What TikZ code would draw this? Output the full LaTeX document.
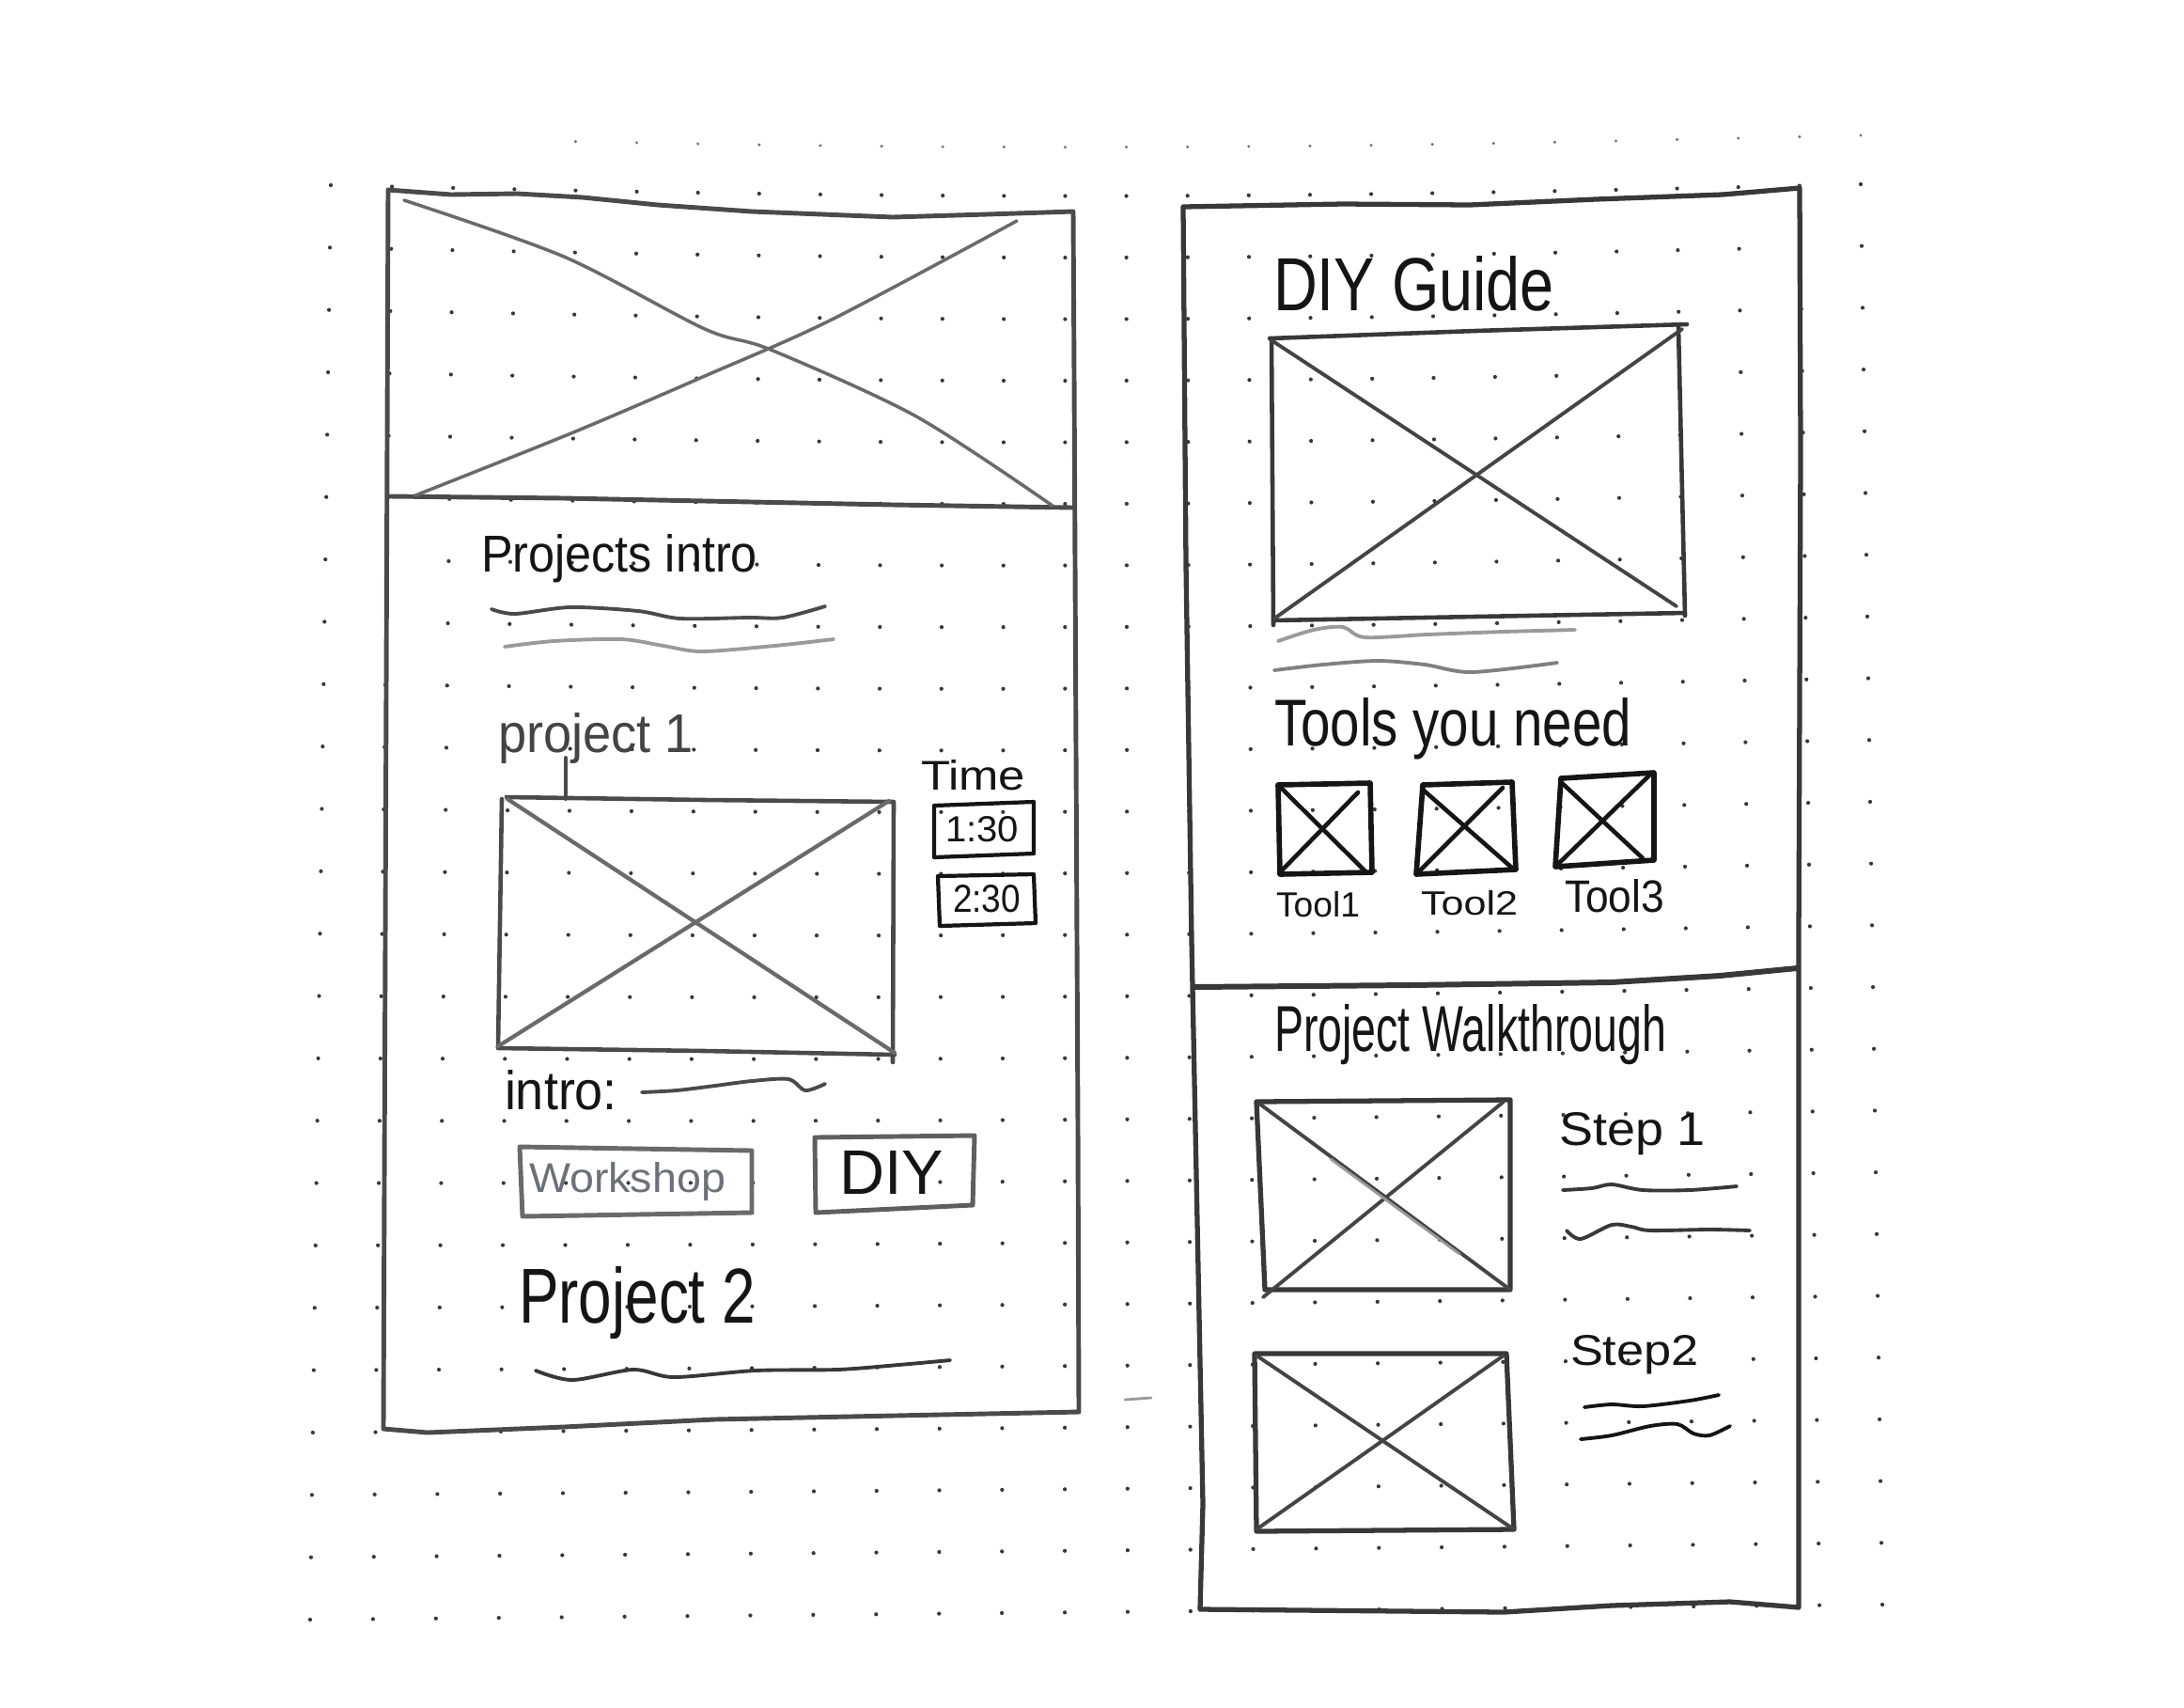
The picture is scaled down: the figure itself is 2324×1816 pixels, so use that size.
\documentclass[tikz,border=0pt]{standalone}
\usepackage{fontspec}
\usepackage{graphicx}
\setmainfont{Liberation Sans}
% one drawing unit = 0.1mm; handwriting is fitted to a width and a height in those units
\newlength\pxu
\setlength\pxu{0.1mm}
\newcommand\hw[3]{\resizebox{#1\pxu}{#2\pxu}{#3}}
\definecolor{dotc}{HTML}{383838}
\definecolor{inkc}{HTML}{151515}
\definecolor{leadc}{HTML}{4A4A4A}
\definecolor{softc}{HTML}{6A6A6A}
\definecolor{paleC}{HTML}{9A9A9A}
\definecolor{bluegray}{HTML}{6C7079}
\begin{document}
\begin{tikzpicture}[x=0.1mm,y=-0.1mm,
  hand/.style={text=inkc, inner sep=0pt, outer sep=0pt, anchor=base west},
  frame/.style={draw=leadc, line width=1.4pt, line join=round, line cap=round},
  darkframe/.style={draw=inkc!85, line width=1.5pt, line join=round, line cap=round},
  cross/.style={draw=softc, line width=1pt, line cap=round},
  darkcross/.style={draw=inkc!80, line width=1.1pt, line cap=round},
  squig/.style={draw=#1, line width=1.1pt, line cap=round},
  toolbox/.style={draw=inkc, line width=1.6pt, line join=round, line cap=round},
  tag/.style={draw=inkc, line width=1.2pt, line join=round}]
\useasboundingbox (0,0) rectangle (2324,1816);
\fill[white] (0,0) rectangle (2324,1816);

% ---- dot grid of the notebook page (slightly warped) ----
\foreach \i in {0,...,25}{
  \foreach \j in {0,...,23}{
    \pgfmathsetmacro\u{\i/25}
    \pgfmathsetmacro\v{\j/23}
    \pgfmathsetmacro\gx{(1-\v)*((1-\u)*352+\u*1980)+\v*((1-\u)*330+\u*2003)}
    \pgfmathsetmacro\gy{(1-\u)*((1-\v)*197+\v*1723)+\u*((1-\v)*196+\v*1707)+12*sin(180*\u)*(1-\v)}
    \fill[dotc] (\gx,\gy) circle[radius=0.21mm];
  }
}
\foreach \i in {4,...,25}{
  \pgfmathsetmacro\u{\i/25}
  \pgfmathsetmacro\gx{(1-\u)*352+\u*1980}
  \pgfmathsetmacro\gy{(1-\u)*197+\u*196+12*sin(180*\u)-52}
  \fill[dotc!70] (\gx,\gy) circle[radius=0.17mm];
}

% ================= left screen =================
\draw[frame] (413,202) -- (480,207) -- (550,206) -- (620,210) -- (700,218) -- (800,225)
  -- (900,229) -- (950,231) -- (1050,228) -- (1142,225)
  -- (1143,400) -- (1145,800) -- (1147,1200) -- (1148,1502)
  -- (1000,1505) -- (760,1510) -- (600,1518) -- (455,1524) -- (408,1520)
  -- (410,1000) -- cycle;
% hero image placeholder
\draw[frame] (415,528) -- (600,530) -- (800,534) -- (950,537) -- (1142,540);
\draw[cross] plot[smooth] coordinates {(430,213) (600,273) (750,350) (820,372) (975,443) (1120,538)};
\draw[cross] plot[smooth] coordinates {(442,527) (610,460) (750,400) (885,340) (1082,235)};

\node[hand] (projintro) at (512,608) {\hw{294}{40}{Projects intro}};
\draw[squig=leadc] plot[smooth] coordinates {(523,648) (548,653) (607,646) (679,650) (724,658) (797,657) (833,657) (878,645)};
\draw[squig=paleC] plot[smooth] coordinates {(537,688) (589,682) (661,680) (706,687) (747,693) (824,687) (887,680)};

\node[hand, text=inkc!80] (proj1) at (530,800) {\hw{208}{42}{project 1}};
\coordinate (p1img) at (602,850);
\draw[frame, line width=1.1pt] (602,806) -- (p1img);

% project 1 image placeholder
\draw[frame, line width=1.3pt] (539,848) -- (750,851) -- (951,853) -- (950,1130);
\draw[frame, line width=1.3pt] (534,850) -- (530,1115) -- (750,1118) -- (952,1122);
\draw[cross, line width=1.2pt] (540,850) -- (952,1120);
\draw[cross, line width=1.2pt] (530,1113) -- (946,852);

\node[hand] (time) at (980,840) {\hw{111}{32}{Time}};
\draw[tag] (994,857) -- (1100,853) -- (1100,908) -- (994,912) -- cycle;
\node[hand] (t130) at (1006,895) {\hw{78}{27}{1:30}};
\draw[tag] (998,932) -- (1100,930) -- (1102,982) -- (1000,985) -- cycle;
\node[hand] (t230) at (1014,970) {\hw{72}{29}{2:30}};

\node[hand] (intro) at (537,1180) {\hw{120}{42}{intro:}};
\draw[squig=leadc] plot[smooth] coordinates {(683,1162) (720,1160) (761,1155) (800,1150) (839,1148) (857,1160) (878,1153)};

\draw[frame, draw=softc] (553,1220) -- (800,1224) -- (800,1290) -- (556,1294) -- cycle;
\node[hand, text=bluegray] (workshop) at (563,1268) {\hw{209}{32}{Workshop}};
\draw[frame, draw=softc!90!black] (867,1210) -- (1037,1208) -- (1035,1282) -- (868,1290) -- cycle;
\node[hand] (diy) at (893,1270) {\hw{111}{46}{DIY}};

\node[hand] (proj2) at (552,1407) {\hw{252}{60}{Project 2}};
\draw[squig=inkc!85] plot[smooth] coordinates {(570,1458) (609,1468) (674,1457) (717,1465) (804,1458) (891,1457) (956,1452) (1011,1447)};

% stray pencil mark between the screens
\draw[squig=paleC, line width=0.8pt] (1197,1489) -- (1225,1487);

% ================= right screen =================
\draw[darkframe] (1259,220) -- (1429,217) -- (1564,218) -- (1698,212) -- (1833,207) -- (1915,200)
  -- (1916,480) -- (1914,1000) -- (1914,1450) -- (1914,1710)
  -- (1841,1704) -- (1715,1708) -- (1600,1715) -- (1277,1712)
  -- (1280,1600) -- (1275,1350) -- (1268,1000) -- (1262,600) -- cycle;
\draw[darkframe, line width=1.7pt] (1270,1050) -- (1500,1048) -- (1715,1045) -- (1830,1038) -- (1912,1030);

\node[hand] (diyguide) at (1355,330) {\hw{299}{58}{DIY Guide}};
\draw[darkframe, line width=1.3pt] (1351,360) -- (1570,352) -- (1795,345);
\draw[darkframe, line width=1.3pt] (1786,348) -- (1793,655);
\draw[darkframe, line width=1.3pt] (1353,360) -- (1355,665);
\draw[darkframe, line width=1.3pt] (1355,660) -- (1570,656) -- (1793,652);
\draw[darkcross] (1353,362) -- (1784,645);
\draw[darkcross] (1356,658) -- (1790,350);
\draw[squig=paleC] plot[smooth] coordinates {(1360,682) (1398,670) (1429,667) (1452,678) (1519,675) (1600,672) (1676,670)};
\draw[squig=softc!85] plot[smooth] coordinates {(1356,713) (1408,707) (1466,703) (1516,707) (1566,715) (1657,705)};

\node[hand] (tools) at (1356,793) {\hw{380}{51}{Tools you need}};
\draw[toolbox] (1360,835) -- (1458,833) -- (1460,928) -- (1362,930) -- cycle;
\draw[toolbox, line width=1.3pt] (1362,837) -- (1454,928) (1362,928) -- (1445,843);
\draw[toolbox] (1514,835) -- (1609,832) -- (1613,925) -- (1507,930) -- cycle;
\draw[toolbox, line width=1.3pt] (1514,840) -- (1611,925) (1507,930) -- (1599,838);
\draw[toolbox] (1661,828) -- (1760,822) -- (1760,915) -- (1655,922) -- cycle;
\draw[toolbox, line width=1.3pt] (1661,832) -- (1748,913) (1655,922) -- (1758,822);
\node[hand] (tool1) at (1358,975) {\hw{89}{27}{Tool1}};
\node[hand] (tool2) at (1512,973) {\hw{103}{26}{Tool2}};
\node[hand] (tool3) at (1665,970) {\hw{106}{35}{Tool3}};

\node[hand] (walk) at (1356,1118) {\hw{417}{50}{Project Walkthrough}};

% step 1
\draw[darkframe] (1337,1172) -- (1607,1170) -- (1607,1372) -- (1346,1372) -- cycle;
\draw[darkcross] (1340,1174) -- (1607,1372);
\draw[darkcross] (1344,1380) -- (1600,1172);
\draw[squig=paleC, line width=0.8pt] (1416,1233) -- (1553,1334);
\node[hand] (step1) at (1659,1218) {\hw{156}{35}{Step 1}};
\draw[squig=inkc!85] plot[smooth] coordinates {(1663,1266) (1694,1264) (1715,1260) (1748,1266) (1798,1266) (1848,1262)};
\draw[squig=inkc!85] plot[smooth] coordinates {(1667,1309) (1682,1318) (1715,1303) (1736,1305) (1756,1309) (1819,1308) (1862,1309)};

% step 2
\draw[darkframe] (1335,1440) -- (1603,1440) -- (1611,1627) -- (1337,1629) -- cycle;
\draw[darkcross] (1337,1442) -- (1611,1627);
\draw[darkcross] (1337,1627) -- (1600,1442);
\node[hand] (step2) at (1671,1452) {\hw{137}{32}{Step2}};
\draw[squig=inkc] plot[smooth] coordinates {(1686,1497) (1715,1494) (1748,1496) (1798,1490) (1829,1484)};
\draw[squig=inkc] plot[smooth] coordinates {(1682,1531) (1715,1527) (1756,1517) (1785,1515) (1802,1525) (1819,1527) (1841,1517)};
\end{tikzpicture}
\end{document}
